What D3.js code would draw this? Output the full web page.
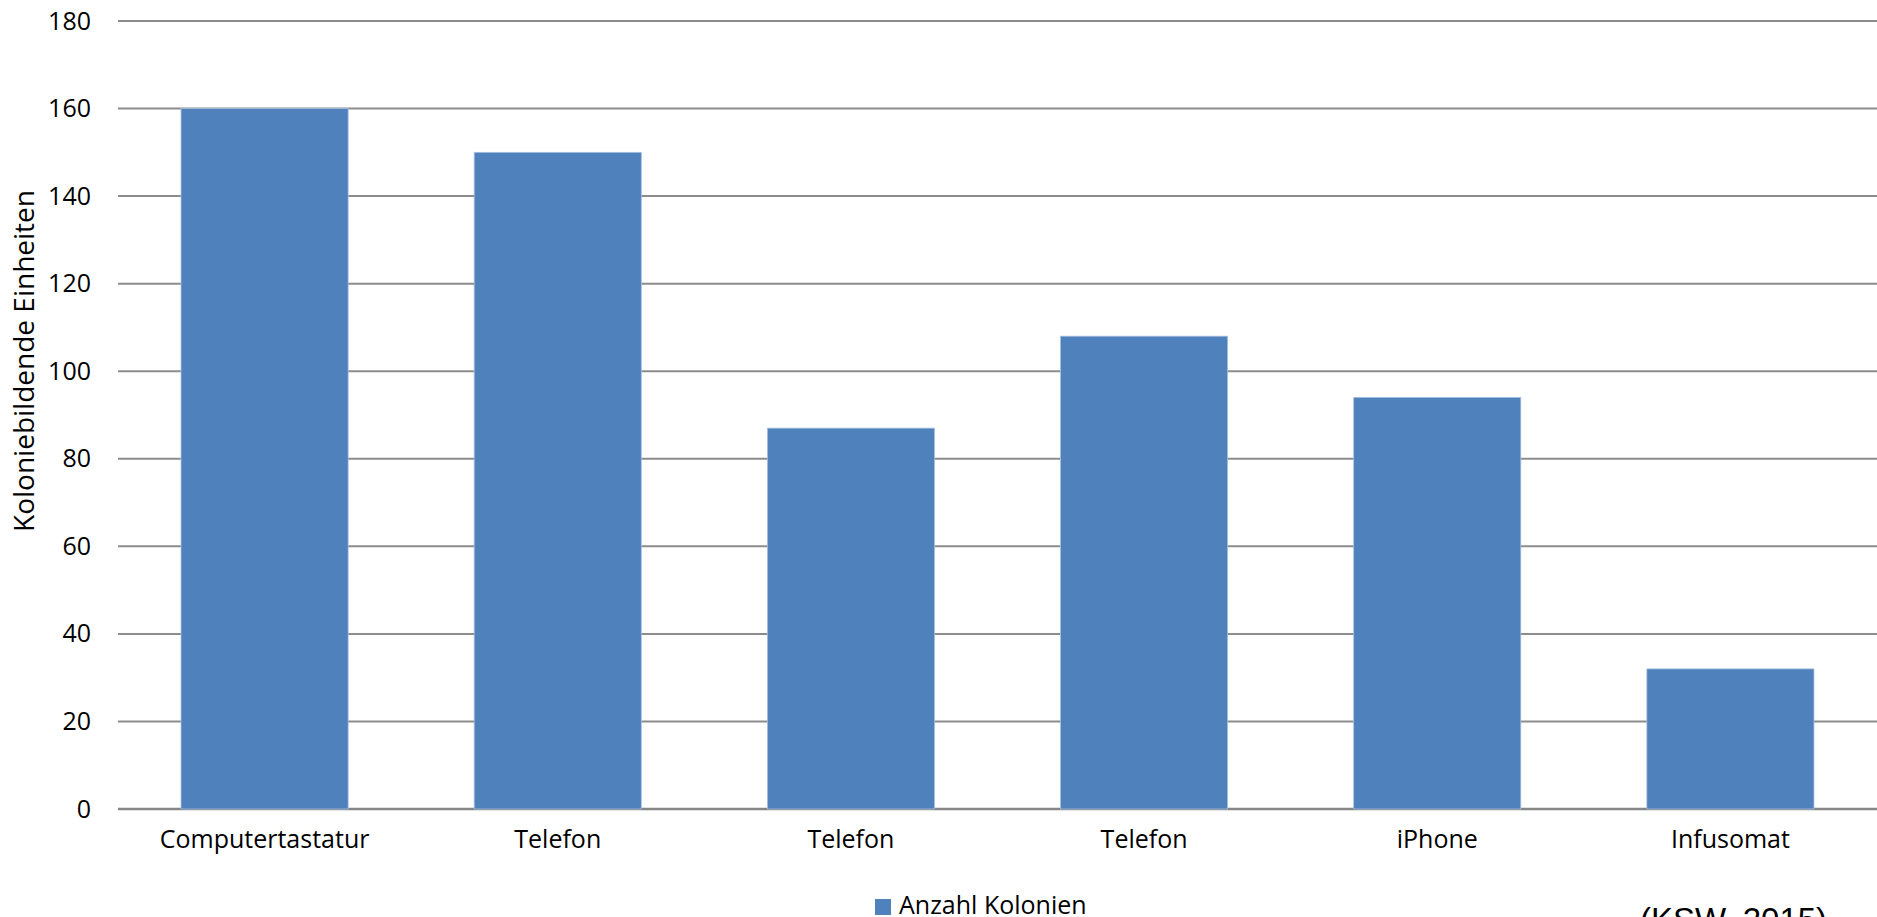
<!DOCTYPE html>
<html>
<head>
<meta charset="utf-8">
<script src="https://cdn.jsdelivr.net/npm/d3@7"></script>
<style>
    html, body { margin: 0; padding: 0; background: #fff; overflow: hidden; }
    svg { display: block; font-family: 'Open Sans', sans-serif; }
</style>
</head>
<body>
<div id="chart"></div>
<script>
'use strict';

// Chart data
const categories = ['Computertastatur', 'Telefon', 'Telefon', 'Telefon', 'iPhone', 'Infusomat'];
const colonies = [160, 150, 87, 108, 94, 32];
const yTicks = [0, 20, 40, 60, 80, 100, 120, 140, 160, 180];

const seriesName = 'Anzahl Kolonien';
const axisTitle = 'Koloniebildende Einheiten';
const source = '(KSW, 2015)';

const width = 1877, height = 917;
const margins = { top: 21, right: 0, bottom: 108, left: 118 };

const labelFont = "'Open Sans', sans-serif";
const labelSize = 25;
const barColor = '#4f81bd';
const gridColor = '#8c8c8c';

// Indexed rows so that the repeated "Telefon" labels stay separate bands
const rows = categories.map((c, i) => ({ key: i, label: c, value: colonies[i] }));

const svg = d3.select('#chart').append('svg')
    .attr('width', width)
    .attr('height', height);

const scaleX = d3.scaleBand()
    .domain(rows.map(d => d.key))
    .range([margins.left, width - margins.right])
    .paddingInner(0.43)
    .paddingOuter(0.215);

const scaleY = d3.scaleLinear()
    .domain([0, 180])
    .range([height - margins.bottom, margins.top]);

// Gridlines
svg.append('g')
    .selectAll('line')
    .data(yTicks)
    .join('line')
    .attr('x1', margins.left)
    .attr('x2', width - margins.right)
    .attr('y1', d => scaleY(d))
    .attr('y2', d => scaleY(d))
    .attr('stroke', d => d === 0 ? '#868686' : gridColor)
    .attr('stroke-width', d => d === 0 ? 2.5 : 2);

// Bars
svg.append('g')
    .selectAll('rect')
    .data(rows)
    .join('rect')
    .attr('x', d => scaleX(d.key))
    .attr('y', d => scaleY(d.value))
    .attr('width', scaleX.bandwidth())
    .attr('height', d => scaleY(0) - scaleY(d.value))
    .attr('fill', barColor)
    .attr('stroke', '#a7bfde')
    .attr('stroke-width', 0.8);

// Y axis labels
const axisY = d3.axisLeft(scaleY)
    .tickValues(yTicks)
    .tickSize(0)
    .tickPadding(27);

svg.append('g')
    .attr('transform', `translate(${margins.left}, 0)`)
    .call(axisY)
    .call(g => g.select('.domain').remove())
    .call(g => g.selectAll('text')
        .attr('font-family', labelFont)
        .attr('font-size', labelSize)
        .attr('fill', '#000'));

// X axis labels
const axisX = d3.axisBottom(scaleX)
    .tickSize(0)
    .tickPadding(21)
    .tickFormat(k => categories[k]);

svg.append('g')
    .attr('transform', `translate(0, ${scaleY(0)})`)
    .call(axisX)
    .call(g => g.select('.domain').remove())
    .call(g => g.selectAll('text')
        .attr('font-family', labelFont)
        .attr('font-size', labelSize)
        .attr('fill', '#000'));

// Axis title
svg.append('text')
    .attr('transform', 'translate(34, 361) rotate(-90)')
    .style('text-anchor', 'middle')
    .attr('font-family', labelFont)
    .attr('font-size', 28)
    .attr('fill', '#000')
    .text(axisTitle);

// Legend
const legend = svg.append('g')
    .attr('transform', 'translate(875, 899)');

legend.append('rect')
    .attr('width', 16)
    .attr('height', 16)
    .attr('fill', barColor);

legend.append('text')
    .attr('x', 24)
    .attr('y', 15)
    .attr('font-family', labelFont)
    .attr('font-size', labelSize)
    .attr('fill', '#000')
    .text(seriesName);

// Source note, partly cut off at the bottom edge as in the original
svg.append('text')
    .attr('x', 1640)
    .attr('y', 931)
    .attr('font-family', "'Liberation Sans', Arial, sans-serif")
    .attr('font-size', 33)
    .attr('fill', '#000')
    .text(source);
</script>
</body>
</html>
